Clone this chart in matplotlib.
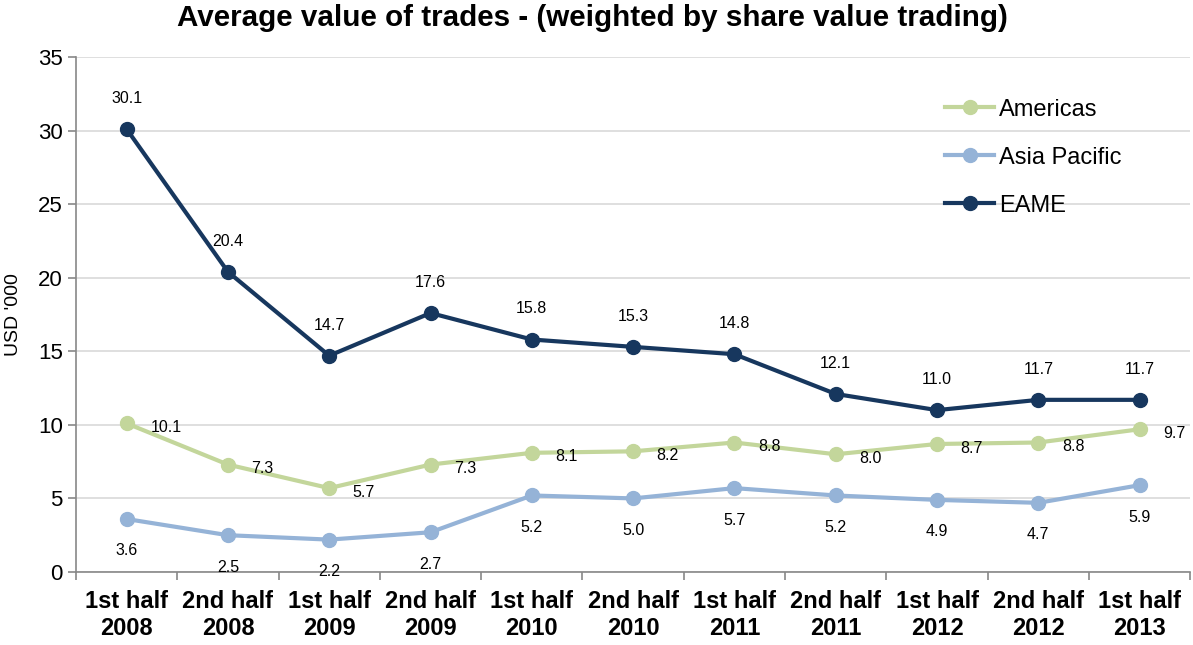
import matplotlib
matplotlib.use("Agg")
import matplotlib.pyplot as plt
import numpy as np

plt.rcParams["font.family"] = ["Liberation Sans", "DejaVu Sans"]

periods = ["1st half\n2008", "2nd half\n2008", "1st half\n2009", "2nd half\n2009",
           "1st half\n2010", "2nd half\n2010", "1st half\n2011", "2nd half\n2011",
           "1st half\n2012", "2nd half\n2012", "1st half\n2013"]
americas = [10.1, 7.3, 5.7, 7.3, 8.1, 8.2, 8.8, 8.0, 8.7, 8.8, 9.7]
asia_pacific = [3.6, 2.5, 2.2, 2.7, 5.2, 5.0, 5.7, 5.2, 4.9, 4.7, 5.9]
eame = [30.1, 20.4, 14.7, 17.6, 15.8, 15.3, 14.8, 12.1, 11.0, 11.7, 11.7]

colors = {"Americas": "#C3D69B", "Asia Pacific": "#95B3D7", "EAME": "#17375E"}

fig = plt.figure(figsize=(11.93, 6.45), dpi=100)
ax = fig.add_axes([0.0637, 0.1132, 0.934, 0.7984])

x = np.arange(len(periods))
series = [("Americas", americas), ("Asia Pacific", asia_pacific), ("EAME", eame)]
for name, vals in series:
    ax.plot(x, vals, color=colors[name], marker="o", markersize=10,
            linewidth=3, label=name, zorder=3)

# data labels
for xi, v in zip(x, eame):
    ax.annotate(f"{v:.1f}", (xi, v), xytext=(0, 22), textcoords="offset points",
                ha="center", va="center", fontsize=11.5)
for xi, v in zip(x, americas):
    ax.annotate(f"{v:.1f}", (xi, v), xytext=(17, -3), textcoords="offset points",
                ha="left", va="center", fontsize=11.5)
for xi, v in zip(x, asia_pacific):
    ax.annotate(f"{v:.1f}", (xi, v), xytext=(0, -23), textcoords="offset points",
                ha="center", va="center", fontsize=11.5)

fig.text(0.497, 0.972, "Average value of trades - (weighted by share value trading)",
         fontsize=21.3, fontweight="bold", ha="center", va="center")
ax.set_ylabel("USD '000", fontsize=14)
ax.yaxis.set_label_coords(-0.0485, 0.5)
ax.set_ylim(0, 35)
ax.set_yticks(np.arange(0, 36, 5))
ax.set_xlim(-0.5, len(periods) - 0.5)
ax.set_xticks(x)
ax.set_xticklabels(periods, fontsize=17, fontweight="bold")
ax.set_xticks(np.arange(-0.5, len(periods)), minor=True)
ax.tick_params(axis="x", which="major", length=0, pad=13)
ax.tick_params(axis="x", which="minor", length=6, color="#888888", width=1.2)
ax.tick_params(axis="y", labelsize=16, length=6, color="#888888", width=1.2)

ax.yaxis.grid(True, color="#D9D9D9", linewidth=1.2)
ax.set_axisbelow(True)
for side in ["top", "right"]:
    ax.spines[side].set_visible(False)
for side in ["left", "bottom"]:
    ax.spines[side].set_color("#888888")
    ax.spines[side].set_linewidth(1.2)

ax.legend(loc="upper left", bbox_to_anchor=(0.792, 0.847),
          bbox_transform=fig.transFigure, frameon=False, borderpad=0,
          borderaxespad=0, fontsize=17, handlelength=2.1, labelspacing=1.1,
          handletextpad=0.2)

plt.savefig("out.png", dpi=100)
plt.close()
